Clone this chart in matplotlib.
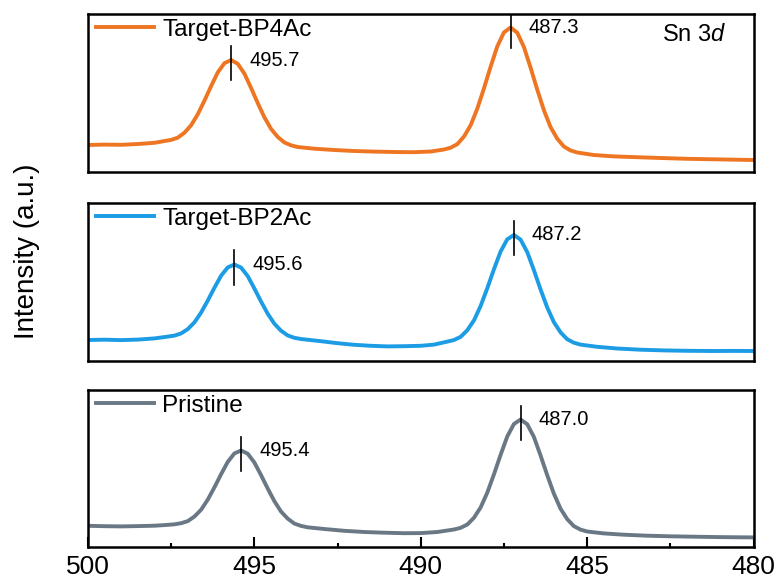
import matplotlib
matplotlib.use('Agg')
import matplotlib.pyplot as plt

plt.rcParams['font.family'] = ['Liberation Sans', 'DejaVu Sans']
plt.rcParams['mathtext.fontset'] = 'custom'
plt.rcParams['mathtext.rm'] = 'Liberation Sans'
plt.rcParams['mathtext.it'] = 'Liberation Sans:italic'

# Sn 3d XPS (intensity in arbitrary units)
be_bp4ac = [500.0, 499.5, 499.0, 498.5, 498.0,
            497.7, 497.5, 497.3, 497.1, 496.9, 496.7, 496.5, 496.3, 496.1, 495.9, 495.7,
            495.5, 495.3, 495.1, 494.9, 494.7, 494.5, 494.3, 494.1, 493.9, 493.7,
            493.2, 492.6, 492.0, 491.4, 490.8, 490.2, 489.7,
            489.3, 489.1, 488.9, 488.7, 488.5, 488.3, 488.1, 487.9, 487.7, 487.5, 487.3,
            487.1, 486.9, 486.7, 486.5, 486.3, 486.1, 485.9, 485.7, 485.5, 485.3,
            484.8, 484.2, 483.5, 482.8, 482.0, 481.2, 480.5, 480.0]
int_bp4ac = [27.0, 27.4, 27.2, 28.0, 29.2,
             31.0, 32.1, 34.4, 39.3, 46.8, 57.8, 71.4, 85.9, 99.6, 108.8, 112.0,
             108.2, 98.4, 84.1, 69.0, 54.8, 43.2, 35.1, 29.6, 26.7, 25.0,
             23.3, 22.0, 21.0, 20.4, 20.0, 19.8, 20.5,
             22.5, 24.3, 27.9, 35.5, 46.8, 63.4, 83.7, 105.3, 125.6, 139.6, 144.5,
             139.3, 125.0, 104.4, 82.5, 61.9, 45.0, 33.4, 25.5, 21.6, 19.5,
             17.0, 15.6, 14.8, 14.0, 13.2, 12.7, 12.3, 12.0]

be_bp2ac = [500.0, 499.5, 499.0, 498.5, 498.0,
            497.6, 497.4, 497.2, 497.0, 496.8, 496.6, 496.4, 496.2, 496.0, 495.8, 495.6,
            495.4, 495.2, 495.0, 494.8, 494.6, 494.4, 494.2, 494.0, 493.8, 493.6,
            493.0, 492.5, 492.0, 491.5, 491.0, 490.5, 490.0, 489.6,
            489.2, 489.0, 488.8, 488.6, 488.4, 488.2, 488.0, 487.8, 487.6, 487.4, 487.2,
            487.0, 486.8, 486.6, 486.4, 486.2, 486.0, 485.8, 485.6, 485.4, 485.2,
            484.7, 484.1, 483.4, 482.7, 482.0, 481.2, 480.6, 480.0]
int_bp2ac = [21.0, 21.3, 20.9, 21.4, 22.6,
             24.4, 25.4, 27.6, 31.9, 38.7, 48.5, 60.5, 73.3, 85.3, 93.6, 96.5,
             93.4, 84.9, 72.5, 59.5, 47.3, 37.3, 30.3, 25.6, 23.2, 22.0,
             19.8, 17.8, 16.2, 15.2, 14.6, 14.8, 15.2, 16.4,
             19.4, 21.0, 24.2, 30.8, 40.7, 55.1, 72.8, 91.8, 109.5, 121.7, 126.0,
             121.4, 108.9, 90.9, 71.6, 53.6, 38.9, 28.7, 21.8, 18.3, 16.4,
             14.2, 12.5, 11.3, 10.6, 10.2, 10.0, 10.1, 10.0]

be_pristine = [500.0, 499.5, 499.0, 498.5, 498.0, 497.7,
               497.4, 497.2, 497.0, 496.8, 496.6, 496.4, 496.2, 496.0, 495.8, 495.6, 495.4,
               495.2, 495.0, 494.8, 494.6, 494.4, 494.2, 494.0, 493.8, 493.6, 493.4,
               492.9, 492.3, 491.7, 491.1, 490.5, 490.0, 489.5,
               489.0, 488.8, 488.6, 488.4, 488.2, 488.0, 487.8, 487.6, 487.4, 487.2, 487.0,
               486.8, 486.6, 486.4, 486.2, 486.0, 485.8, 485.6, 485.4, 485.2, 485.0,
               484.5, 483.9, 483.2, 482.5, 481.8, 481.0, 480.4, 480.0]
int_pristine = [21.2, 20.8, 20.6, 20.9, 21.3, 21.9,
                22.7, 23.8, 25.9, 30.5, 37.3, 47.4, 59.7, 72.8, 85.1, 93.6, 96.5,
                93.3, 84.5, 71.9, 58.5, 45.9, 35.5, 28.4, 23.5, 21.1, 19.7,
                18.0, 16.2, 15.0, 14.3, 13.8, 13.9, 15.0,
                17.5, 19.2, 22.5, 29.3, 39.6, 54.4, 72.7, 92.2, 110.5, 123.0, 127.5,
                122.8, 110.1, 91.6, 71.9, 53.4, 38.4, 27.9, 20.9, 17.4, 15.5,
                13.6, 12.3, 11.3, 10.7, 10.3, 9.9, 9.7, 9.6]

samples = ['Target-BP4Ac', 'Target-BP2Ac', 'Pristine']
colors = ['#EE7623', '#1B9CE5', '#6A7886']
peak_be = [[495.7, 487.3], [495.6, 487.2], [495.4, 487.0]]
peak_int = [[112.0, 144.5], [96.5, 126.0], [96.5, 127.5]]
peak_labels = [['495.7', '487.3'], ['495.6', '487.2'], ['495.4', '487.0']]

all_be = [be_bp4ac, be_bp2ac, be_pristine]
all_int = [int_bp4ac, int_bp2ac, int_pristine]

fig = plt.figure(figsize=(7.78, 5.87), dpi=100)
W, H = 778.0, 587.0
# panel top/bottom in pixels
panels = [(14, 172), (203, 361), (390, 547)]
x0, x1 = 88, 753.5

axes = []
for i, (top, bot) in enumerate(panels):
    ax = fig.add_axes([x0 / W, 1 - bot / H, (x1 - x0) / W, (bot - top) / H])
    ax.plot(all_be[i], all_int[i], color=colors[i], lw=2.8, label=samples[i])
    ax.set_xlim(500, 480)
    ax.set_ylim(0, bot - top)
    ax.set_yticks([])
    for s in ax.spines.values():
        s.set_linewidth(1.8)
    # peak markers
    for bx, by, lab in zip(peak_be[i], peak_int[i], peak_labels[i]):
        ax.plot([bx, bx], [by - 20, by + 14], color='black', lw=1.2)
        ax.annotate(lab, (bx, by), xytext=(13, 0), textcoords='offset points',
                    ha='left', va='center', fontsize=14.5)
    ax.legend(loc='upper left', bbox_to_anchor=(0.012, 0.97), frameon=False,
              fontsize=17.5, handlelength=2.4, handletextpad=0.32,
              borderaxespad=0, borderpad=0)
    if i < 2:
        ax.set_xticks([])
    else:
        ax.set_xticks([500, 495, 490, 485, 480])
        ax.set_xticks([497.5, 492.5, 487.5, 482.5], minor=True)
        ax.tick_params(axis='x', which='major', direction='in', length=7.5, width=1.5,
                       labelsize=19, pad=6)
        ax.tick_params(axis='x', which='minor', direction='in', length=3, width=1.5)
    axes.append(ax)

axes[0].text(0.862, 0.867, 'Sn 3$\\mathit{d}$', transform=axes[0].transAxes,
             ha='left', va='center', fontsize=17)

fig.text(27 / W, 1 - 251 / H, 'Intensity (a.u.)', rotation=90, ha='center', va='center',
         fontsize=20)

fig.savefig('out.png', dpi=100)
